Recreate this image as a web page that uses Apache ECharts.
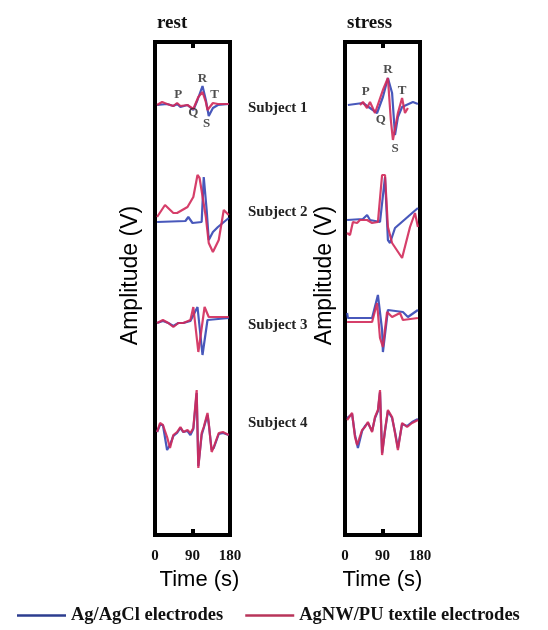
<!DOCTYPE html>
<html>
<head>
<meta charset="utf-8">
<script src="https://cdn.jsdelivr.net/npm/echarts@6/dist/echarts.min.js"></script>
<style>
  html, body { margin: 0; padding: 0; background: #fff; }
  #chart { width: 548px; height: 630px; }
</style>
</head>
<body>
<div id="chart"></div>
<script>
// tick labels / categories
const timeTicks = [0, 90, 180];
const panelNames = ['rest', 'stress'];
const subjectNames = ['Subject 1', 'Subject 2', 'Subject 3', 'Subject 4'];
const seriesNames = ['Ag/AgCl electrodes', 'AgNW/PU textile electrodes'];
const waveLabels = ['P', 'Q', 'R', 'S', 'T'];

// [time (s), amplitude]
const restS1Blue = [[5,0],[29,0.1],[44,-0.1],[53,0.1],[61,-0.2],[78,0],[92,-0.5],[102,0.5],[114,1.9],[122,0.5],[129,-1.1],[139,-0.3],[151,0],[177,0.1]];
const restS1Red = [[5,0],[17,0.3],[29,0.1],[44,-0.1],[53,0.2],[61,-0.1],[78,0],[92,-0.4],[104,0.8],[114,1.3],[122,0.3],[126,-0.5],[139,0.2],[151,0.1],[177,0.1]];
const restS2Blue = [[5,-0.2],[73,-0.1],[80,0.3],[90,-0.3],[112,-0.2],[117,4.3],[124,1.0],[129,-2.0],[139,-1.2],[151,-0.7],[177,0.2]];
const restS2Red = [[5,0.3],[24,1.5],[44,0.7],[53,0.7],[78,1.3],[92,2.3],[102,4.5],[107,4.2],[122,0.3],[129,-2.3],[139,-3.2],[153,-2.0],[165,1.0],[177,0.5]];
const restS3Blue = [[5,0],[19,0.2],[32,0],[44,-0.3],[56,0],[68,0],[85,0.2],[102,1.6],[114,-3.2],[126,0.3],[177,0.5]];
const restS3Red = [[5,0],[19,0.3],[32,0],[44,-0.4],[56,0],[68,0],[85,0.3],[92,1.6],[104,-2.9],[119,1.6],[129,0.6],[177,0.6]];
const restS4Blue = [[5,0.1],[12,0.8],[19,0.8],[29,-1.7],[36,-1.2],[44,-0.3],[53,0],[61,0.5],[68,0.1],[78,0.2],[85,-0.2],[92,0.4],[100,4.0],[104,-3.3],[112,-0.2],[117,0.5],[126,1.8],[129,0.9],[136,-1.7],[141,-1.5],[153,-0.1],[163,0],[177,-0.2]];
const restS4Red = [[5,0.1],[12,1.0],[19,0.8],[29,-0.4],[36,-1.5],[44,-0.2],[53,0.1],[61,0.6],[68,0.1],[78,0.3],[85,0],[92,0.5],[100,4.3],[104,-3.5],[112,0],[117,0.6],[126,2.0],[129,1.0],[136,-1.9],[141,-1.4],[153,0],[163,0.1],[177,-0.2]];

const stressS1Blue = [[7,0],[43,0.2],[60,-0.3],[77,-0.8],[91,0.8],[103,2.7],[113,1.2],[120,-3.0],[127,-1.2],[137,-0.2],[163,0.3],[175,0.1]];
const stressS1Red = [[36,0],[43,0.3],[53,-0.3],[60,0.3],[72,-0.8],[91,1.5],[103,2.7],[110,-1.5],[115,-3.5],[127,-0.8],[137,0.7],[144,-0.8],[151,-0.3]];
const stressS2Blue = [[5,0],[43,0.1],[53,0.5],[60,0],[84,-0.2],[96,4.3],[103,-2.0],[108,-2.3],[120,-0.8],[175,1.2]];
const stressS2Red = [[5,-1.3],[12,-1.5],[19,-0.2],[29,-0.3],[36,0],[53,0],[65,-0.3],[79,-0.2],[89,4.5],[96,4.5],[103,-0.7],[113,-2.3],[137,-3.8],[156,-0.7],[168,0.7],[175,-0.7]];
const stressS3Blue = [[5,0.5],[7,0],[65,0],[79,2.3],[89,-1.2],[91,-3.4],[103,0.8],[139,0.6],[151,0.1],[175,0.8]];
const stressS3Red = [[5,-0.4],[65,-0.4],[77,1.5],[84,-2.0],[91,-2.9],[101,0.6],[113,0.1],[132,0.5],[139,-0.2],[175,0]];
const stressS4Blue = [[5,0.2],[17,0.6],[24,-1.5],[31,-2.8],[41,-1.1],[48,-0.6],[55,-0.3],[65,-1.1],[72,0.2],[79,0.9],[84,2.8],[89,-3.3],[96,-1.1],[103,0.9],[113,0.2],[120,-1.2],[127,-2.8],[137,-0.4],[149,-0.6],[161,-0.2],[175,0.1]];
const stressS4Red = [[5,0],[17,0.7],[24,-1.7],[29,-2.5],[41,-1.0],[48,-0.7],[55,-0.2],[65,-1.2],[72,0.3],[79,1.0],[84,3.0],[89,-3.5],[96,-1.0],[103,1.0],[113,0.3],[120,-1.3],[127,-3.0],[137,-0.3],[149,-0.7],[161,-0.3],[175,0]];

// label anchors for the P-Q-R-S-T annotations on subject 1
const restWaveLabelPos = [[56,1.0],[92,-0.8],[114,2.6],[124,-1.9],[143,1.0]];
const stressWaveLabelPos = [[50,1.3],[86,-1.5],[103,3.5],[120,-4.4],[137,1.4]];

const traces = [
  [[restS1Blue, restS1Red], [restS2Blue, restS2Red], [restS3Blue, restS3Red], [restS4Blue, restS4Red]],
  [[stressS1Blue, stressS1Red], [stressS2Blue, stressS2Red], [stressS3Blue, stressS3Red], [stressS4Blue, stressS4Red]]
];
const waveLabelPos = [restWaveLabelPos, stressWaveLabelPos];

const BLUE = '#3446b4';
const RED = '#d12a5a';
const serif = '"Liberation Serif", "DejaVu Serif", serif';
const sans = '"Liberation Sans", Arial, sans-serif';

const panelLeft = [155, 345];
const panelWidth = 75;
const frameTop = 42, frameHeight = 493;
const subjectCenter = [[105, 220, 323, 433], [105, 220, 318, 420]];
const subjectHalf = 50; // px, maps to +/-5 amplitude units
const ampGap = [13, 9];
const timePad = [[0, 0, 0, 14], [0, 0, 0, 0]];

const grid = [], xAxis = [], yAxis = [], series = [];

panelNames.forEach((p, pi) => {
  grid.push({ left: panelLeft[pi], top: frameTop, width: panelWidth, height: frameHeight,
    show: true, borderColor: '#000', borderWidth: 4, backgroundColor: 'transparent' });
  const gi = grid.length - 1;
  const tickCfg = { show: true, inside: true, length: 6, lineStyle: { color: '#000', width: 4 } };
  xAxis.push({ gridIndex: gi, type: 'value', min: 0, max: 180, interval: 90, position: 'bottom',
    axisLine: { show: false }, splitLine: { show: false }, axisTick: tickCfg,
    axisLabel: { show: true, margin: 14, color: '#111', fontFamily: serif, fontWeight: 'bold', fontSize: 15,
      formatter: v => timeTicks.includes(v) ? String(v) : '' },
    name: 'Time (s)', nameLocation: 'middle', nameGap: 31,
    nameTextStyle: { fontFamily: sans, fontSize: 22, color: '#000', padding: timePad[pi] } });
  xAxis.push({ gridIndex: gi, type: 'value', min: 0, max: 180, interval: 90, position: 'top',
    axisLine: { show: false }, splitLine: { show: false }, axisTick: tickCfg, axisLabel: { show: false } });
  yAxis.push({ gridIndex: gi, type: 'value', min: 0, max: 1,
    axisLine: { show: false }, axisTick: { show: false }, axisLabel: { show: false }, splitLine: { show: false },
    name: 'Amplitude (V)', nameLocation: 'middle', nameGap: ampGap[pi],
    nameTextStyle: { fontFamily: sans, fontSize: 23, color: '#000', padding: [0, 0, 0, 26] } });
});

panelNames.forEach((p, pi) => {
  subjectNames.forEach((s, si) => {
    grid.push({ left: panelLeft[pi], top: subjectCenter[pi][si] - subjectHalf, width: panelWidth, height: subjectHalf * 2 });
    const gi = grid.length - 1;
    xAxis.push({ gridIndex: gi, type: 'value', min: 0, max: 180, show: false });
    yAxis.push({ gridIndex: gi, type: 'value', min: -5, max: 5, show: false });
    const ax = xAxis.length - 1, ay = yAxis.length - 1;
    traces[pi][si].forEach((d, k) => {
      series.push({
        name: seriesNames[k], type: 'line', xAxisIndex: ax, yAxisIndex: ay,
        data: d, symbol: 'none', showSymbol: false, smooth: false,
        lineStyle: { color: k === 0 ? BLUE : RED, width: 2.2, opacity: 0.9 },
        itemStyle: { color: k === 0 ? BLUE : RED },
        z: 3 + k
      });
    });
    if (si === 0) {
      series.push({
        type: 'scatter', xAxisIndex: ax, yAxisIndex: ay, symbolSize: 0, silent: true,
        data: waveLabelPos[pi].map((c, i) => ({ name: waveLabels[i], value: c })),
        label: { show: true, position: 'inside', formatter: '{b}', color: '#222',
          fontFamily: serif, fontWeight: 'bold', fontSize: 13 },
        z: 6
      });
    }
  });
});

const subjectLabelY = [109, 213, 326, 424];
const graphic = subjectNames.map((s, i) => ({
  type: 'text', left: 248, top: subjectLabelY[i] - 8,
  style: { text: s, font: 'bold 15px ' + serif, fill: '#222' }
}));

const chart = echarts.init(document.getElementById('chart'), null, { renderer: 'canvas' });
chart.setOption({
  animation: false,
  backgroundColor: '#fff',
  title: [
    { text: 'rest', left: 152, top: 9, textStyle: { fontFamily: serif, fontWeight: 'bold', fontSize: 19, color: '#111' } },
    { text: 'stress', left: 342, top: 9, textStyle: { fontFamily: serif, fontWeight: 'bold', fontSize: 19, color: '#111' } }
  ],
  legend: {
    data: [
      { name: seriesNames[0], itemStyle: { color: '#2c3d8f' } },
      { name: seriesNames[1], itemStyle: { color: '#b8345a' } }
    ],
    left: 12, top: 601, itemWidth: 49, itemHeight: 2.5, itemGap: 22,
    icon: 'rect',
    textStyle: { fontFamily: serif, fontWeight: 'bold', fontSize: 18.5, color: '#111' }
  },
  grid, xAxis, yAxis, series, graphic
});
</script>
</body>
</html>
